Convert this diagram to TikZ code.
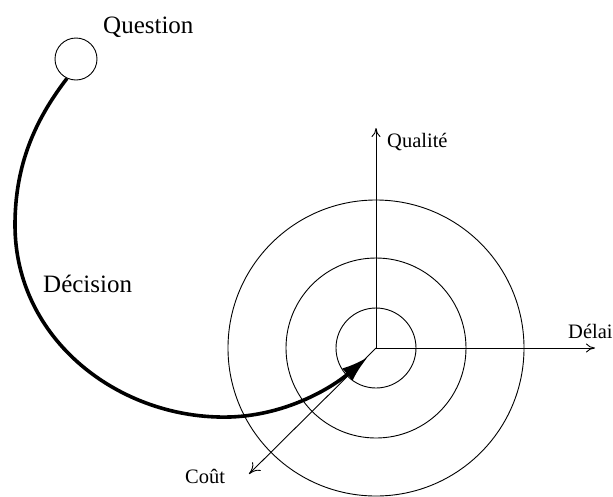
\documentclass[tikz,border=0pt]{standalone}
\usepackage{fontspec}
\setmainfont{Liberation Serif}
\usetikzlibrary{arrows.meta}
\begin{document}
\begin{tikzpicture}[x=1pt,y=-1pt,
  ring/.style={draw,circle,line width=0.9pt,inner sep=0pt},
  axis/.style={line width=0.9pt,-{To[length=9pt,width=9pt]}},
  bigtxt/.style={inner sep=0pt,anchor=base west,font=\fontsize{25}{30}\selectfont},
  smalltxt/.style={inner sep=0pt,anchor=base west,font=\fontsize{20.5}{24}\selectfont}]
\useasboundingbox (0,0) rectangle (613,496);
\coordinate (O) at (376,348);
\node[ring,minimum size=296pt] (c3) at (O) {};
\node[ring,minimum size=180pt] (c2) at (O) {};
\node[ring,minimum size=80pt] (c1) at (O) {};
\coordinate (qt) at (376,128);
\coordinate (dt) at (595,348);
\coordinate (ct) at (249,474);
\draw[axis] (O) -- (qt);
\draw[axis] (O) -- (dt);
\draw[axis,-{To[length=11pt,width=12pt]}] (O) -- (ct);
\node[ring,minimum size=42pt] (q) at (76,59) {};
\coordinate (dtip) at (368,357);
\draw[line width=3.6pt,-{Latex[length=27pt,width=16pt]}] (q.245) .. controls (35,120) and (15,165) .. (15,225)
  .. controls (15,340) and (120,420) .. (230,417)
  .. controls (290,415) and (335,385) .. (dtip);
\node[bigtxt] (tq) at (103,33) {Question};
\node[bigtxt] (td) at (43,292) {Décision};
\node[smalltxt] (tql) at (387,147) {Qualité};
\node[smalltxt] (tde) at (568,338) {Délai};
\node[smalltxt] (tco) at (185,483) {Coût};
\end{tikzpicture}
\end{document}
